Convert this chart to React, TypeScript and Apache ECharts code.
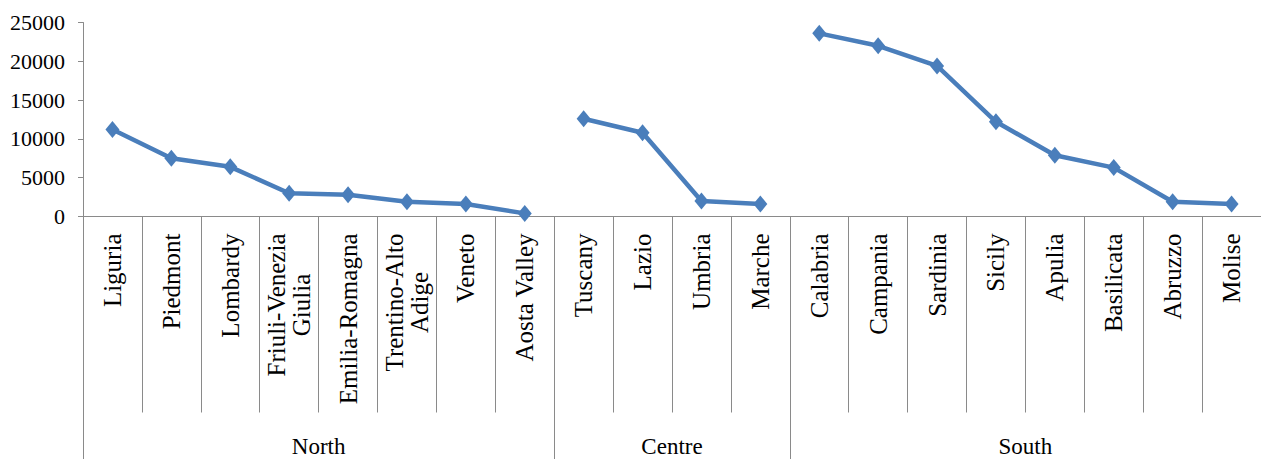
import React, { useEffect, useRef } from "react";
import * as echarts from "echarts";

const categories = [
  "Liguria", "Piedmont", "Lombardy", "Friuli-Venezia\nGiulia", "Emilia-Romagna",
  "Trentino-Alto\nAdige", "Veneto", "Aosta Valley",
  "Tuscany", "Lazio", "Umbria", "Marche",
  "Calabria", "Campania", "Sardinia", "Sicily", "Apulia", "Basilicata", "Abruzzo", "Molise",
];
const northValues = [11200, 7500, 6400, 3000, 2800, 1900, 1600, 400];
const centreValues = [12600, 10800, 2000, 1600];
const southValues = [23600, 22000, 19400, 12200, 7900, 6300, 1900, 1600];
const groupNames = ["North", "Centre", "South"];
const groupSizes = [8, 4, 8];
const yTicks = { min: 0, max: 25000, interval: 5000 };

const FONT = "serif";
const LINE_COLOR = "#4a7ebb";
const AXIS_COLOR = "#8a8a8a";

function padSeries(values: number[], start: number): (number | string)[] {
  const out: (number | string)[] = categories.map(() => "-");
  values.forEach((v, i) => (out[start + i] = v));
  return out;
}

export default function App() {
  const ref = useRef<HTMLDivElement>(null);
  useEffect(() => {
    if (!ref.current) return;
    const chart = echarts.init(ref.current, undefined, { renderer: "svg" });

    const boundaries: number[] = [0];
    const centers: number[] = [];
    let acc = 0;
    groupSizes.forEach((s) => {
      centers.push(acc + s / 2);
      acc += s;
      boundaries.push(acc);
    });
    const tickBoundaries = boundaries.slice(0, -1);

    const starts = [0, groupSizes[0], groupSizes[0] + groupSizes[1]];
    const groupData = [northValues, centreValues, southValues];

    chart.setOption({
      animation: false,
      textStyle: { fontFamily: FONT },
      grid: { left: 83, right: 0, top: 22.5, bottom: 242.5, containLabel: false },
      xAxis: [
        {
          type: "category",
          data: categories,
          boundaryGap: true,
          position: "bottom",
          axisLine: { show: true, onZero: false, lineStyle: { color: AXIS_COLOR, width: 1 } },
          axisTick: { show: true, interval: 0, length: 196, lineStyle: { color: AXIS_COLOR, width: 1 } },
          axisLabel: {
            interval: 0,
            rotate: 90,
            margin: 17,
            color: "#000",
            fontFamily: FONT,
            fontSize: 25,
            lineHeight: 25,
            formatter: (v: string) => {
              if (v.indexOf("\n") >= 0) {
                const parts = v.split("\n");
                return parts.map((p) => `{c|${p}}`).join("\n");
              }
              return v;
            },
            rich: {
              c: { align: "center", fontFamily: FONT, fontSize: 25, lineHeight: 25, color: "#000" },
            },
          },
          splitLine: { show: false },
        },
        {
          type: "value",
          min: boundaries[0],
          max: boundaries[boundaries.length - 1],
          position: "bottom",
          axisLine: { show: false, onZero: false },
          axisTick: {
            show: true,
            customValues: tickBoundaries,
            length: 243,
            lineStyle: { color: AXIS_COLOR, width: 1 },
          },
          axisLabel: {
            show: true,
            customValues: centers,
            margin: 218,
            color: "#000",
            fontFamily: FONT,
            fontSize: 23,
            formatter: (v: number) => {
              const idx = centers.indexOf(v);
              return idx >= 0 ? groupNames[idx] : "";
            },
          },
          splitLine: { show: false },
        },
      ],
      yAxis: {
        type: "value",
        min: yTicks.min,
        max: yTicks.max,
        interval: yTicks.interval,
        axisLine: { show: true, lineStyle: { color: AXIS_COLOR, width: 1 } },
        axisTick: { show: true, length: 5, lineStyle: { color: AXIS_COLOR, width: 1 } },
        axisLabel: {
          color: "#000",
          fontFamily: FONT,
          fontSize: 22,
          margin: 18,
          formatter: (v: number) => String(v),
        },
        splitLine: { show: false },
      },
      series: groupData.map((vals, gi) => ({
        type: "line",
        xAxisIndex: 0,
        yAxisIndex: 0,
        data: padSeries(vals, starts[gi]),
        connectNulls: false,
        symbol: "diamond",
        symbolSize: [14, 17],
        lineStyle: { color: LINE_COLOR, width: 4.5 },
        itemStyle: { color: LINE_COLOR },
        emphasis: { disabled: true },
      })),
    });
    return () => chart.dispose();
  }, []);
  return (
    <div
      ref={ref}
      style={{ position: "fixed", left: 0, top: 0, width: 1261, height: 459, background: "#fff" }}
    />
  );
}
